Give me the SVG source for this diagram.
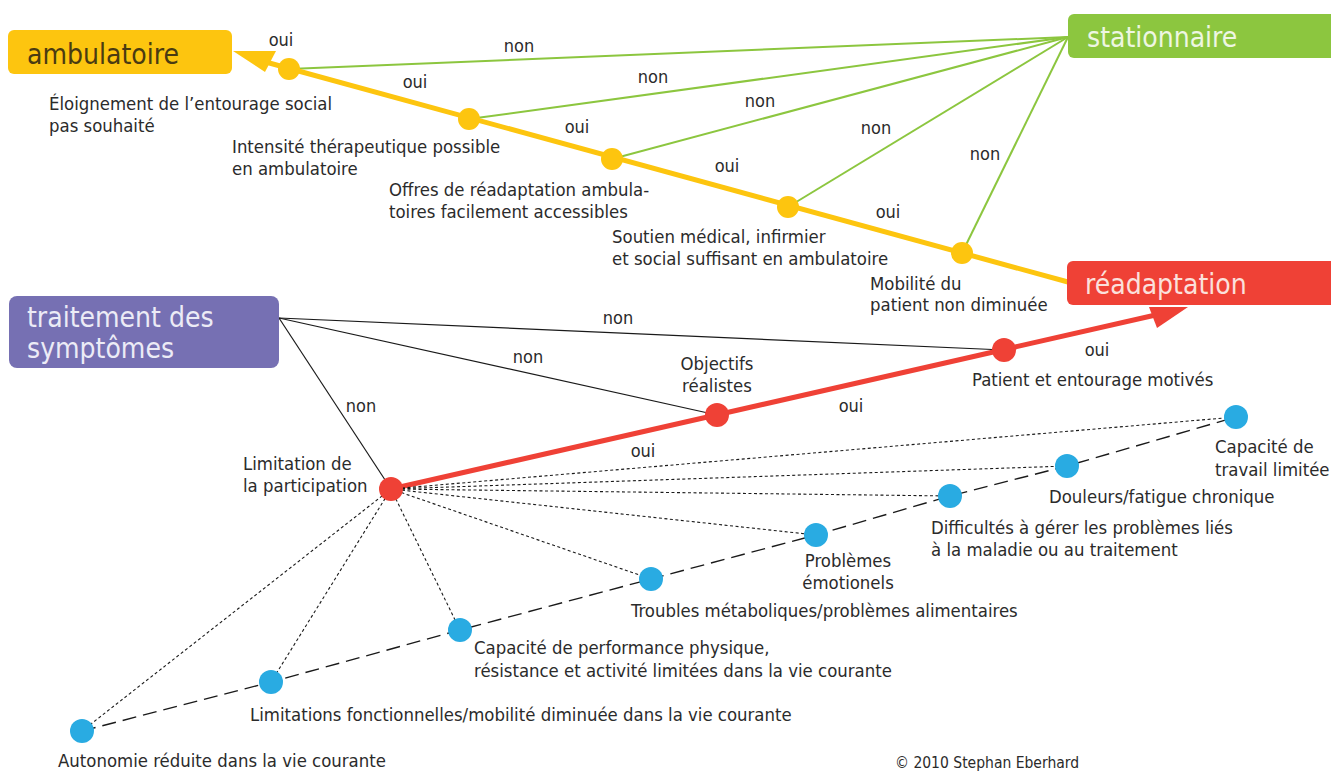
<svg xmlns="http://www.w3.org/2000/svg" width="1331" height="771" viewBox="0 0 1331 771">
  <style>
    text { font-family: "Liberation Sans Narrow", "DejaVu Sans Condensed", "Liberation Sans", sans-serif; }
    .lbl { font-size: 18.4px; fill: #2b2b2b; }
    .yn { font-size: 18px; fill: #2b2b2b; }
    .box { font-size: 28px; }
    .green { stroke: #8cc63f; stroke-width: 2; fill: none; }
    .thin { stroke: #1a1a1a; stroke-width: 1.2; fill: none; }
    .dot { stroke: #1a1a1a; stroke-width: 1.1; stroke-dasharray: 3 2.5; fill: none; }
    .dash { stroke: #1a1a1a; stroke-width: 1.4; stroke-dasharray: 14 7; fill: none; }
    .ydot { fill: #fdc50f; }
    .rdot { fill: #ef4136; }
    .bdot { fill: #29abe2; }
  </style>

  <rect width="1331" height="771" fill="#ffffff"/>

  <!-- connectors -->
  <g id="connectors">
    <!-- green "non" branches toward stationnaire -->
    <line class="green" x1="1068" y1="37" x2="289" y2="69"/>
    <line class="green" x1="1068" y1="37" x2="469" y2="119"/>
    <line class="green" x1="1068" y1="37" x2="612" y2="159"/>
    <line class="green" x1="1068" y1="37" x2="788" y2="207"/>
    <line class="green" x1="1068" y1="37" x2="962" y2="253"/>

    <!-- yellow "oui" chain toward ambulatoire -->
    <line x1="1068" y1="282" x2="262" y2="61" stroke="#fdc50f" stroke-width="5"/>
    <polygon points="233,51 276,51 265,72" fill="#fdc50f"/>

    <!-- black "non" branches toward traitement des symptômes -->
    <line class="thin" x1="279" y1="318" x2="1004" y2="350"/>
    <line class="thin" x1="279" y1="318" x2="717" y2="415"/>
    <line class="thin" x1="279" y1="318" x2="391" y2="489"/>

    <!-- red "oui" chain toward réadaptation -->
    <line x1="391" y1="489" x2="1160" y2="314" stroke="#ef4136" stroke-width="5"/>
    <polygon points="1188,307 1149,307 1157,328" fill="#ef4136"/>

    <!-- dotted links from the participation node -->
    <line class="dot" x1="391" y1="489" x2="82" y2="731"/>
    <line class="dot" x1="391" y1="489" x2="271" y2="682"/>
    <line class="dot" x1="391" y1="489" x2="460" y2="630"/>
    <line class="dot" x1="391" y1="489" x2="651" y2="579"/>
    <line class="dot" x1="391" y1="489" x2="816" y2="535"/>
    <line class="dot" x1="391" y1="489" x2="950" y2="496"/>
    <line class="dot" x1="391" y1="489" x2="1067" y2="466"/>
    <line class="dot" x1="391" y1="489" x2="1236" y2="417"/>

    <!-- dashed chain through the limitation factors -->
    <polyline class="dash" points="82,731 271,682 460,630 651,579 816,535 950,496 1067,466 1236,417"/>

    <!-- yes / no labels -->
    <text class="yn" x="281" y="46" text-anchor="middle">oui</text>
    <text class="yn" x="519" y="52" text-anchor="middle">non</text>
    <text class="yn" x="415" y="88" text-anchor="middle">oui</text>
    <text class="yn" x="653" y="83" text-anchor="middle">non</text>
    <text class="yn" x="577" y="133" text-anchor="middle">oui</text>
    <text class="yn" x="760" y="107" text-anchor="middle">non</text>
    <text class="yn" x="727" y="172" text-anchor="middle">oui</text>
    <text class="yn" x="876" y="134" text-anchor="middle">non</text>
    <text class="yn" x="888" y="218" text-anchor="middle">oui</text>
    <text class="yn" x="985" y="160" text-anchor="middle">non</text>
    <text class="yn" x="618" y="324" text-anchor="middle">non</text>
    <text class="yn" x="528" y="363" text-anchor="middle">non</text>
    <text class="yn" x="361" y="412" text-anchor="middle">non</text>
    <text class="yn" x="1097" y="356" text-anchor="middle">oui</text>
    <text class="yn" x="851" y="412" text-anchor="middle">oui</text>
    <text class="yn" x="643" y="457" text-anchor="middle">oui</text>
  </g>

  <!-- outcome boxes -->
  <g id="ambulatoire">
    <rect x="8" y="30" width="224" height="44" rx="6" fill="#fdc50f"/>
    <text class="box" x="27" y="64" fill="#4a3b12">ambulatoire</text>
  </g>
  <g id="stationnaire">
    <rect x="1068" y="14" width="275" height="44" rx="6" fill="#8cc63f"/>
    <text class="box" x="1087" y="47" fill="#eef6e2">stationnaire</text>
  </g>
  <g id="readaptation">
    <rect x="1067" y="261" width="276" height="44" rx="6" fill="#ef4136"/>
    <text class="box" x="1085" y="294" fill="#fbe0dc">réadaptation</text>
  </g>
  <g id="traitement">
    <rect x="9" y="296" width="270" height="72" rx="8" fill="#7670b3"/>
    <text class="box" x="27" y="327" fill="#ecebf6">traitement des</text>
    <text class="box" x="27" y="358" fill="#ecebf6">symptômes</text>
  </g>

  <!-- ambulatory decision criteria -->
  <g id="eloignement">
    <circle class="ydot" cx="289" cy="69" r="11"/>
    <text class="lbl" x="49" y="110">Éloignement de l’entourage social</text>
    <text class="lbl" x="49" y="132">pas souhaité</text>
  </g>
  <g id="intensite">
    <circle class="ydot" cx="469" cy="119" r="11"/>
    <text class="lbl" x="232" y="153">Intensité thérapeutique possible</text>
    <text class="lbl" x="232" y="175">en ambulatoire</text>
  </g>
  <g id="offres">
    <circle class="ydot" cx="612" cy="159" r="11"/>
    <text class="lbl" x="389" y="196">Offres de réadaptation ambula-</text>
    <text class="lbl" x="389" y="218">toires facilement accessibles</text>
  </g>
  <g id="soutien">
    <circle class="ydot" cx="788" cy="207" r="11"/>
    <text class="lbl" x="612" y="243">Soutien médical, infirmier</text>
    <text class="lbl" x="612" y="265">et social suffisant en ambulatoire</text>
  </g>
  <g id="mobilite">
    <circle class="ydot" cx="962" cy="253" r="11"/>
    <text class="lbl" x="870" y="290">Mobilité du</text>
    <text class="lbl" x="870" y="311">patient non diminuée</text>
  </g>

  <!-- rehabilitation criteria -->
  <g id="participation">
    <circle class="rdot" cx="391" cy="489" r="12"/>
    <text class="lbl" x="243" y="470">Limitation de</text>
    <text class="lbl" x="243" y="492">la participation</text>
  </g>
  <g id="objectifs">
    <circle class="rdot" cx="717" cy="415" r="12"/>
    <text class="lbl" x="717" y="370" text-anchor="middle">Objectifs</text>
    <text class="lbl" x="717" y="392" text-anchor="middle">réalistes</text>
  </g>
  <g id="motivation">
    <circle class="rdot" cx="1004" cy="350" r="12"/>
    <text class="lbl" x="972" y="386">Patient et entourage motivés</text>
  </g>

  <!-- limitation factors -->
  <g id="autonomie">
    <circle class="bdot" cx="82" cy="731" r="12"/>
    <text class="lbl" x="58" y="767">Autonomie réduite dans la vie courante</text>
  </g>
  <g id="fonctionnelles">
    <circle class="bdot" cx="271" cy="682" r="12"/>
    <text class="lbl" x="250" y="721">Limitations fonctionnelles/mobilité diminuée dans la vie courante</text>
  </g>
  <g id="performance">
    <circle class="bdot" cx="460" cy="630" r="12"/>
    <text class="lbl" x="474" y="654">Capacité de performance physique,</text>
    <text class="lbl" x="474" y="677">résistance et activité limitées dans la vie courante</text>
  </g>
  <g id="metaboliques">
    <circle class="bdot" cx="651" cy="579" r="12"/>
    <text class="lbl" x="631" y="617">Troubles métaboliques/problèmes alimentaires</text>
  </g>
  <g id="emotionnels">
    <circle class="bdot" cx="816" cy="535" r="12"/>
    <text class="lbl" x="848" y="567" text-anchor="middle">Problèmes</text>
    <text class="lbl" x="848" y="589" text-anchor="middle">émotionels</text>
  </g>
  <g id="difficultes">
    <circle class="bdot" cx="950" cy="496" r="12"/>
    <text class="lbl" x="931" y="534">Difficultés à gérer les problèmes liés</text>
    <text class="lbl" x="931" y="556">à la maladie ou au traitement</text>
  </g>
  <g id="douleurs">
    <circle class="bdot" cx="1067" cy="466" r="12"/>
    <text class="lbl" x="1049" y="503">Douleurs/fatigue chronique</text>
  </g>
  <g id="travail">
    <circle class="bdot" cx="1236" cy="417" r="12"/>
    <text class="lbl" x="1215" y="453">Capacité de</text>
    <text class="lbl" x="1215" y="476">travail limitée</text>
  </g>

  <text x="895" y="768" font-size="15.5" fill="#2b2b2b">© 2010 Stephan Eberhard</text>
</svg>
